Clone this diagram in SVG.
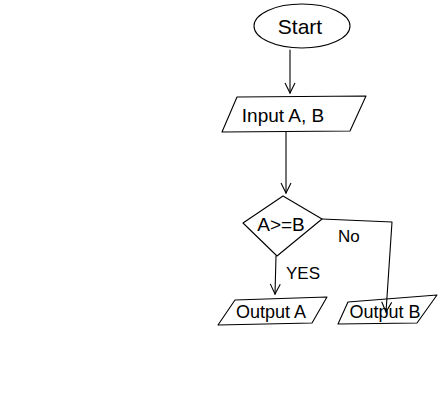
<svg xmlns="http://www.w3.org/2000/svg" width="438" height="406" viewBox="0 0 438 406">
<style>
.s{fill:none;stroke:#000;stroke-width:1.1;stroke-linejoin:round;stroke-linecap:round}
.t{font-family:"Liberation Sans",Arial,sans-serif;font-size:18px;fill:#000;text-anchor:middle}
.l{font-family:"Liberation Sans",Arial,sans-serif;font-size:17px;fill:#000}
</style>
<defs>
<marker id="a" viewBox="0 0 12 12" refX="11" refY="6" markerWidth="12" markerHeight="12" markerUnits="userSpaceOnUse" orient="auto">
<path d="M1,1 L11,6 L1,11" fill="none" stroke="#000" stroke-width="1.1"/>
</marker>
</defs>
<rect width="438" height="406" fill="#fff"/>
<g id="connectors">
<path class="s" d="M290,50 L290,93" marker-end="url(#a)"/>
<path class="s" d="M286,132 L286,193" marker-end="url(#a)"/>
<path class="s" d="M276,256 L275,294" marker-end="url(#a)"/>
<path class="s" d="M322,219 L392,222 L386,312" marker-end="url(#a)"/>
<text class="l" x="338" y="242">No</text>
<text class="l" x="286" y="279">YES</text>
</g>
<g id="start">
<ellipse class="s" cx="302" cy="26" rx="48" ry="22"/>
<text class="t" x="300" y="34" style="font-size:21px">Start</text>
</g>
<g id="input">
<polygon class="s" points="237,97 366,96 350,131 222,132"/>
<text class="t" x="283" y="122" style="font-size:19px">Input A, B</text>
</g>
<g id="decision">
<polygon class="s" points="243,223 283,196 322,219 277,256"/>
<text class="t" x="281" y="231" style="font-size:19px">A&gt;=B</text>
</g>
<g id="outA">
<polygon class="s" points="235,300 327,297 312,323 218,325"/>
<text class="t" x="271" y="318">Output A</text>
</g>
<g id="outB">
<polygon class="s" points="348,302 437,295 417,323 338,324"/>
<text class="t" x="385" y="318">Output B</text>
</g>
</svg>
